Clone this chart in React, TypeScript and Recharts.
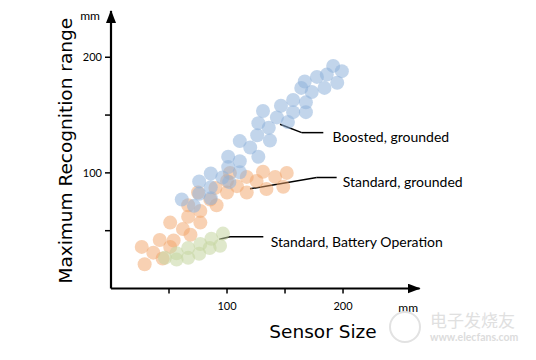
import React from "react";
import { ScatterChart, Scatter, XAxis, YAxis, ReferenceLine, ReferenceDot } from "recharts";

// sensor size (mm) vs maximum recognition range (mm)
const boosted = [
  { x: 191.5, y: 192.5 }, { x: 199, y: 188 }, { x: 186, y: 185 }, { x: 177.5, y: 183 },
  { x: 195, y: 178 }, { x: 167, y: 179 }, { x: 164, y: 173.5 }, { x: 184, y: 173.5 },
  { x: 173, y: 170 }, { x: 157, y: 163 }, { x: 168, y: 161 }, { x: 146.5, y: 158 },
  { x: 157, y: 152.5 }, { x: 168, y: 152.5 }, { x: 131, y: 153.5 }, { x: 143, y: 148 },
  { x: 152.5, y: 144 }, { x: 127, y: 143 }, { x: 136, y: 139 }, { x: 126, y: 132.5 },
  { x: 137, y: 128 }, { x: 111, y: 127.5 }, { x: 120, y: 122 }, { x: 127, y: 114 },
  { x: 101, y: 114 }, { x: 111, y: 110 }, { x: 101, y: 105 }, { x: 111, y: 100.5 },
  { x: 86, y: 99.5 }, { x: 96, y: 96 }, { x: 102, y: 92 }, { x: 76, y: 92.5 },
  { x: 86, y: 87.5 }, { x: 76, y: 82 }, { x: 86, y: 78 }, { x: 61, y: 77 }, { x: 71.5, y: 71.5 },
];

const standardGrounded = [
  { x: 26.5, y: 36 }, { x: 36.5, y: 31 }, { x: 29, y: 21 }, { x: 42, y: 42 }, { x: 51, y: 36 },
  { x: 44.5, y: 26 }, { x: 54, y: 41.5 }, { x: 51, y: 57 }, { x: 62, y: 51.5 }, { x: 68.5, y: 46.5 },
  { x: 66.5, y: 62 }, { x: 77, y: 57 }, { x: 77, y: 67 }, { x: 66.5, y: 72 }, { x: 91, y: 72 },
  { x: 85.5, y: 77 }, { x: 75, y: 83 }, { x: 90, y: 87 }, { x: 100, y: 83 }, { x: 100, y: 93 },
  { x: 108.5, y: 88.5 }, { x: 117, y: 83 }, { x: 102.5, y: 100 }, { x: 117, y: 96.5 },
  { x: 125.5, y: 93 }, { x: 131, y: 101 }, { x: 141.5, y: 96.5 }, { x: 134, y: 86 },
  { x: 148.5, y: 88 }, { x: 151.5, y: 100 },
];

const battery = [
  { x: 96.5, y: 47.5 }, { x: 86.5, y: 43 }, { x: 77, y: 38.5 }, { x: 94, y: 37 },
  { x: 66.5, y: 35 }, { x: 85, y: 35 }, { x: 56.5, y: 30.5 }, { x: 76, y: 30 },
  { x: 66.5, y: 26.5 }, { x: 46.5, y: 26.5 }, { x: 56.5, y: 25 },
];

const xTicks = [50, 100, 150, 200];
const yTicks = [50, 100, 150, 200];
const labeledTicks = [100, 200];

const boostedLeader = [{ x: 145.7, y: 142 }, { x: 164.4, y: 134.8 }, { x: 183, y: 134.8 }];
const groundedLeader = [{ x: 119.8, y: 86.2 }, { x: 177.3, y: 96 }, { x: 194.5, y: 96 }];
const batteryLeader = [{ x: 93.4, y: 42.6 }, { x: 102.6, y: 44.8 }, { x: 131.3, y: 44.8 }];

const callouts = [
  { text: "Boosted, grounded", x: 191, y: 131, leader: boostedLeader },
  { text: "Standard, grounded", x: 199.7, y: 92.4, leader: groundedLeader },
  { text: "Standard, Battery Operation", x: 137.7, y: 40.5, leader: batteryLeader },
];

const sans = "Lato, 'Open Sans', sans-serif";
const title = "'DejaVu Sans', sans-serif";

const dot = (fill: string, opacity: number) => (p: any) => (
  <circle cx={p.cx} cy={p.cy} r={7} fill={fill} fillOpacity={opacity} />
);

const tickFmt = (v: number) => (labeledTicks.includes(v) ? String(v) : "");

const YTitle = (props: any) => {
  const vb = props.viewBox;
  const x = vb.x + 1;
  const y = vb.y + vb.height / 2 + 1;
  return (
    <g>
      <text x={vb.x + vb.width - 11} y={vb.y + 9} textAnchor="end" fontSize={12} fontFamily={sans} fill="#000">mm</text>
      <text x={x} y={y} transform={`rotate(-90 ${x} ${y})`} textAnchor="middle" fontSize={18.5} fontFamily={title} fill="#000">
        Maximum Recognition range
      </text>
    </g>
  );
};

const XTitle = (props: any) => {
  const vb = props.viewBox;
  return (
    <g>
      <text x={vb.x + vb.width - 1.5} y={vb.y + 23} textAnchor="end" fontSize={12} fontFamily={sans} fill="#000">mm</text>
      <text x={vb.x + 212} y={vb.y + 49.5} textAnchor="middle" fontSize={18.5} fontFamily={title} fill="#000">
        Sensor Size
      </text>
    </g>
  );
};

export default function App() {
  const axisLine = { stroke: "#000", strokeWidth: 2.2 };
  const tickLine = { stroke: "#000", strokeWidth: 1.5 };
  const tick = { fontSize: 11, fill: "#000", fontFamily: sans };

  return (
    <div style={{ position: "absolute", left: 0, top: 0, width: 536, height: 360, background: "#fff" }}>
      <svg width={0} height={0} style={{ position: "absolute" }}>
        <defs>
          <marker id="axisArrow" viewBox="0 0 13 10" refX="12" refY="5" markerWidth="13" markerHeight="10"
            markerUnits="userSpaceOnUse" orient="auto-start-reverse">
            <path d="M0,0 L13,5 L0,10 z" fill="#000" />
          </marker>
        </defs>
      </svg>
      <ScatterChart width={536} height={360} margin={{ top: 11, right: 116.4, bottom: 41.5, left: 71 }}>
        <XAxis type="number" dataKey="x" domain={[0, 266]} ticks={xTicks} tickFormatter={tickFmt}
          height={30} tickSize={5} tickMargin={9} tick={tick} tickLine={tickLine}
          axisLine={{ ...axisLine, markerEnd: "url(#axisArrow)" }} label={XTitle} />
        <YAxis type="number" dataKey="y" domain={[0, 240]} ticks={yTicks} tickFormatter={tickFmt}
          width={40} tickSize={6} tickMargin={3} tick={tick} tickLine={tickLine}
          axisLine={{ ...axisLine, markerStart: "url(#axisArrow)" }} label={YTitle} />
        <Scatter data={standardGrounded} shape={dot("#f2a468", 0.5)} isAnimationActive={false} />
        <Scatter data={battery} shape={dot("#c5d6a0", 0.55)} isAnimationActive={false} />
        <Scatter data={boosted} shape={dot("#8fb3da", 0.55)} isAnimationActive={false} />
        {callouts.flatMap((c) =>
          c.leader.slice(1).map((p, i) => (
            <ReferenceLine key={c.text + i} segment={[c.leader[i], p]} stroke="#000" strokeWidth={1.5} />
          ))
        )}
        {callouts.map((c) => (
          <ReferenceDot key={c.text} x={c.x} y={c.y} r={1}
            shape={(p: any) => (
              <text x={p.cx} y={p.cy} dy="0.36em" fontSize={14} fontFamily={sans} fill="#000">{c.text}</text>
            )} />
        ))}
      </ScatterChart>
      <svg width={150} height={50} style={{ position: "absolute", left: 386, top: 308 }}>
        <circle cx={19} cy={19} r={15} fill="none" stroke="#e2e2e2" strokeWidth={2} />
        <text x={44} y={19} fontSize={17} fontFamily="'Noto Sans CJK SC'" fill="#e0e0e0">电子发烧友</text>
        <text x={44} y={33} fontSize={10.5} fontWeight="bold" fontFamily={sans} fill="#dcdcdc">www.elecfans.com</text>
      </svg>
    </div>
  );
}
